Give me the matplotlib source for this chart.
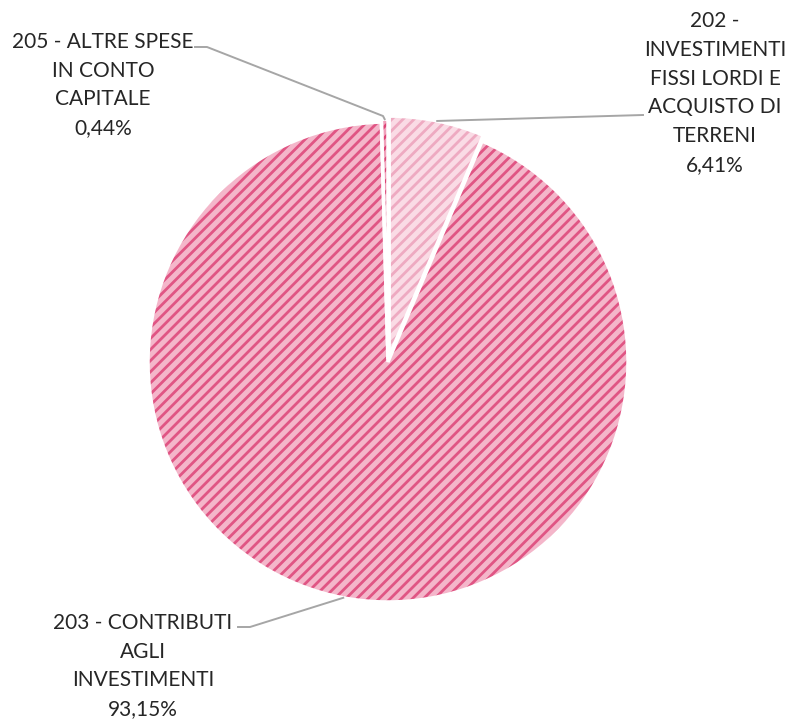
import matplotlib
matplotlib.use("Agg")
import matplotlib.pyplot as plt
import numpy as np

categories = ["202 -\nINVESTIMENTI\nFISSI LORDI E\nACQUISTO DI\nTERRENI",
              "203 - CONTRIBUTI\nAGLI\nINVESTIMENTI",
              "205 - ALTRE SPESE\nIN CONTO\nCAPITALE"]
values = [6.41, 93.15, 0.44]
value_labels = ["6,41%", "93,15%", "0,44%"]

face_colors = ["#fadbe5", "#f4b6ca", "#f0a0ba"]
hatch_colors = ["#eeaac1", "#e05584", "#dc4577"]
explode = [0.025, 0.0, 0.012]

plt.rcParams['font.family'] = ['Lato', 'DejaVu Sans']
plt.rcParams['hatch.linewidth'] = 2.0

W, H = 790, 720
fig = plt.figure(figsize=(W / 100, H / 100), dpi=100)
cx, cy, R = 388, 362, 240
ax = fig.add_axes([(cx - R) / W, (H - cy - R) / H, 2 * R / W, 2 * R / H])
ax.set_xlim(-1, 1)
ax.set_ylim(-1, 1)
ax.axis('off')

common = dict(startangle=90, counterclock=False, radius=1.0, explode=explode)
w1, _ = ax.pie(values, colors=face_colors, wedgeprops=dict(linewidth=0), **common)
w2, _ = ax.pie(values, colors=["none"] * 3, wedgeprops=dict(linewidth=0), **common)
for w, hc in zip(w2, hatch_colors):
    w.set_facecolor("none")
    w.set_edgecolor(hc)
    w.set_hatch("///")
    w.set_linewidth(0)
w3, _ = ax.pie(values, colors=["none"] * 3,
               wedgeprops=dict(linewidth=2.5, edgecolor="white", fill=False), **common)
ax.set_xlim(-1, 1)
ax.set_ylim(-1, 1)

def px2d(px, py):
    return ((px - cx) / R, (cy - py) / R)

anchors = []
for w in w1:
    mid = np.deg2rad((w.theta1 + w.theta2) / 2)
    c = w.center
    anchors.append((c[0] + np.cos(mid), c[1] + np.sin(mid)))

label_pos = [(715, 93), (143, 666), (103, 85)]
elbows = [[(643, 115)], [(250, 627), (238, 627)], [(383, 116), (207, 47), (195, 47)]]

line_color = "#a6a6a6"
for i in range(3):
    pts = [anchors[i]] + [px2d(*p) for p in elbows[i]]
    xs, ys = zip(*pts)
    ax.plot(xs, ys, color=line_color, lw=1.4, clip_on=False, zorder=5)
    tx, ty = px2d(*label_pos[i])
    ax.text(tx, ty, categories[i] + "\n" + value_labels[i], ha="center", va="center",
            multialignment="center", fontsize=15, color="#262626", linespacing=1.55,
            clip_on=False)

fig.savefig("out.png", dpi=100, facecolor="white")
